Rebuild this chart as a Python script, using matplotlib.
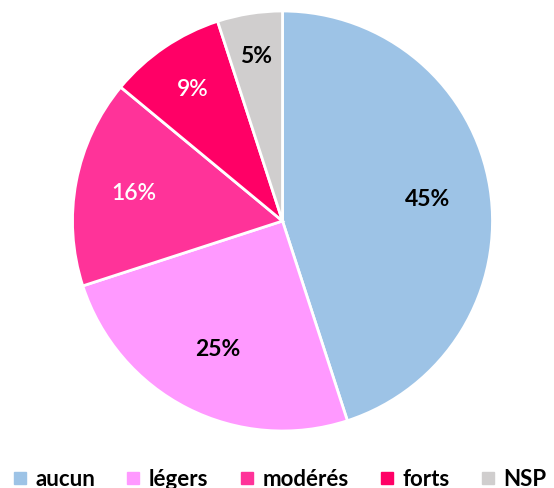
import matplotlib.pyplot as plt
from matplotlib.lines import Line2D
import numpy as np

# donnees du graphique
categories = ["aucun", "légers", "modérés", "forts", "NSP"]
valeurs = [45, 25, 16, 9, 5]
couleurs = ["#9DC3E6", "#FF99FF", "#FF3399", "#FF0066", "#D0CECE"]
couleursTexte = ["black", "black", "white", "white", "black"]
poidsTexte = ["bold", "bold", "semibold", "semibold", "bold"]
distancesTexte = [0.70, 0.68, 0.72, 0.76, 0.80]

plt.rcParams['font.family'] = ['Lato', 'DejaVu Sans']

fig = plt.figure(figsize=(5.54, 4.89), dpi=100)
ax = fig.add_axes([72.5/554, 57/489, 420/554, 420/489])

wedges, textos = ax.pie(valeurs, colors=couleurs, startangle=90, counterclock=False,
                        wedgeprops=dict(edgecolor="white", linewidth=2))
ax.set_xlim(-1, 1)
ax.set_ylim(-1, 1)
ax.set_aspect('equal')

# etiquettes de pourcentage dans chaque part
for w, v, c, p, d in zip(wedges, valeurs, couleursTexte, poidsTexte, distancesTexte):
    ang = np.deg2rad((w.theta1 + w.theta2) / 2)
    ax.text(d*np.cos(ang), d*np.sin(ang), str(v) + "%", color=c, fontsize=16.5,
            fontweight=p, ha='center', va='center')

# legende en bas
poignees = [Line2D([], [], marker='s', linestyle='none', color=c, markersize=8.6) for c in couleurs]
fig.legend(poignees, categories, loc='center left', bbox_to_anchor=(13/554, 9/489), ncol=5,
           frameon=False, borderpad=0, borderaxespad=0, handlelength=0.6, handletextpad=0.4,
           columnspacing=1.42, prop=dict(size=16, weight='bold'))

fig.savefig("out.png", dpi=100)
